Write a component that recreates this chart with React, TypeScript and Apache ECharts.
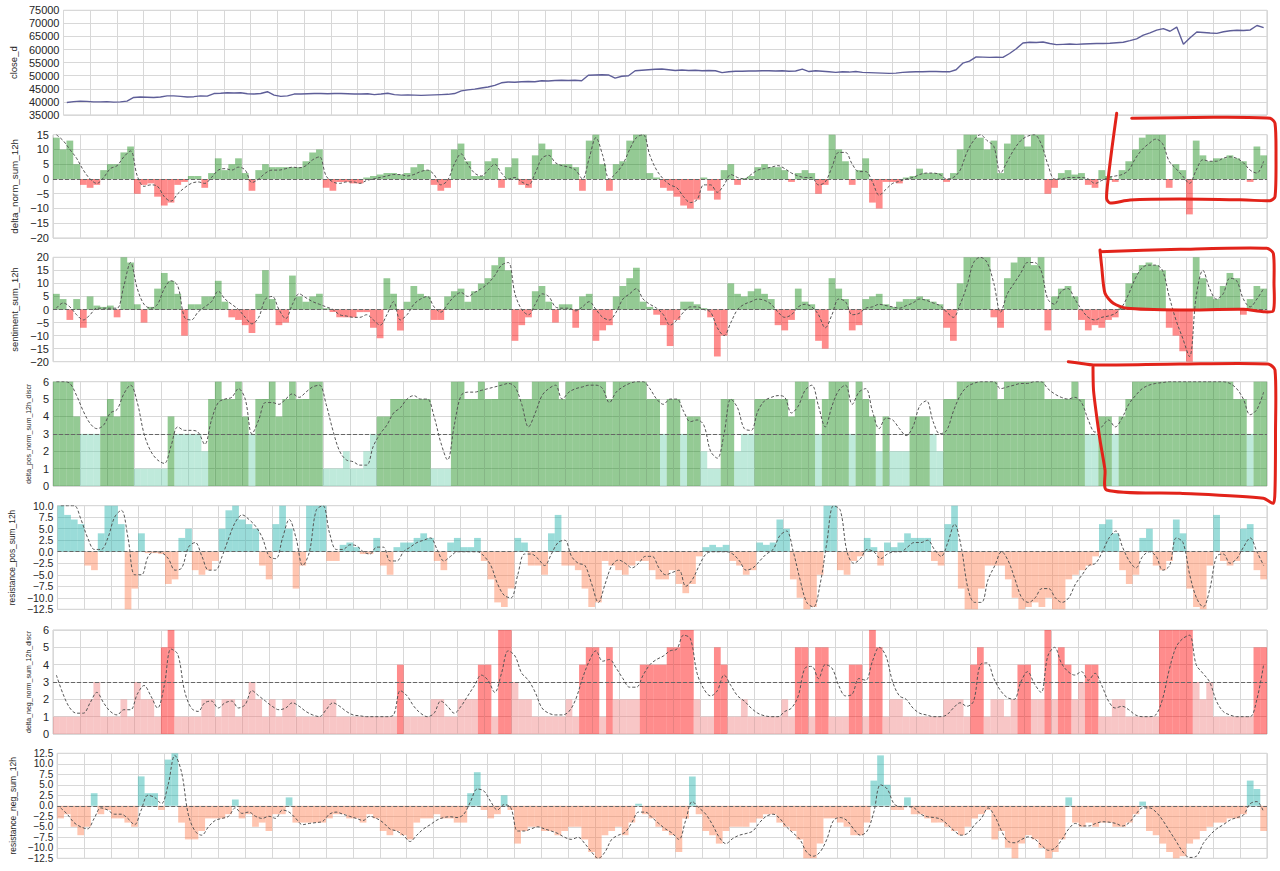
import React, { useEffect, useRef } from "react";
import * as echarts from "echarts";

// ---------- data (180 samples per panel) ----------
const closeD = [
  39800, 40100, 40300, 40200, 40000, 40000, 40100, 39900, 40000, 40300,
  41700, 41900, 41800, 41700, 41900, 42300, 42300, 42100, 41900, 42000,
  42300, 42200, 43200, 43300, 43500, 43400, 43500, 43100, 43000, 43200,
  43900, 42600, 42100, 42300, 43000, 43000, 43100, 43200, 43200, 43100,
  43200, 43200, 43100, 43000, 43000, 43100, 42800, 43000, 43300, 42800,
  42600, 42700, 42600, 42500, 42600, 42700, 42800, 42900, 43200, 44200,
  44600, 44900, 45300, 45700, 46300, 47300, 47600, 47500, 47700, 47800,
  47700, 48100, 48000, 48200, 48300, 48200, 48300, 48100, 50200, 50300,
  50400, 50300, 49100, 49800, 50000, 51900, 52100, 52300, 52500, 52600,
  52300, 52000, 52200, 52000, 52100, 51900, 52000, 51900, 51200, 51500,
  51700, 51700, 51800, 51800, 51900, 51900, 51800, 51900, 51700, 51800,
  52500, 51600, 51900, 51700, 51500, 51300, 51500, 51400, 51600, 51300,
  51200, 51100, 51000, 50900, 51000, 51300, 51400, 51500, 51500, 51600,
  51600, 51500, 51500, 52300, 54800, 55600, 57200, 57100, 57000, 57100,
  57000, 58500, 60300, 62500, 62800, 62700, 62900, 62300, 61900, 62000,
  62100, 62000, 62100, 62200, 62300, 62300, 62400, 62600, 62800, 63400,
  64100, 65500, 66400, 67400, 68000, 67000, 68600, 62000, 64500, 66700,
  66500, 66300, 66200, 66800, 67200, 67400, 67300, 67500, 69200, 68400,
];

const deltaNorm = [
  14, 10, 13, 5, -2, -3, -2, 3, 5, 5,
  9, 11, -5, -2, -1.5, -6, -9, -8, -2, -1,
  1, 1, -3, 2, 7, 3, 5, 7, 2, -4,
  3, 5, 4, 4, 4, 4, 4, 6, 9, 10,
  -3, -4, -1, -1, -1.5, -1.5, 0.5, 1, 1.5, 2,
  2, 1.5, 2, 4, 5, 3, -2, -4, -3, 10,
  12, 6, 1, 1, 6, 7, -3, 4, 7, -2,
  -3, 8, 12, 10, 5, 5, 5, 4, -4, 13,
  15, 5, -4, 5, 6, 13, 15, 15, 2, 0.5,
  -3, -4, -6, -9, -10, -7, 0.5, -4, -7, 3,
  5, -2, 0.3, 1, 4, 5, 4, 4, 3, -1,
  2, 3, 2, -5, -2, 15, 10, 6, -2, 3,
  7, -8, -10, -1, -1, -1.5, 0.5, 1, 3.5, 2,
  2, 2, -1, 2, 10, 15, 15, 14, 10, 13,
  2, 12, 15, 15, 11, 15, 15, -5, -3, 2,
  3, 1.5, 2, -2, -3, 3, 1, -1, 3, 6,
  10, 14, 15, 15, 15, -3, 5, 3, -12, 13,
  8, 6, 7, 7, 8, 7, 6, -1, 11, 8,
];
const deltaNormAvg = [
  15, 13, 10, 7, 3, 0, -1.5, 0.5, 3.5, 4.5,
  7.5, 9.5, 1, -2.5, -2, -2.5, -6, -7.5, -5, -3,
  -1.5, -1, -1.5, 0.5, 3, 3.5, 3, 4, 3, -1.2,
  0, 2, 3, 3, 3.5, 4, 3.8, 4.5, 6.5, 7.5,
  1, -1, -1.5, -1, -1, -1.5, -0.5, 0, 0.5, 1,
  1.5, 1.5, 1, 1.5, 2.5, 3, 1.5, -2, -0.5, 5,
  8.5, 5, 2, 1, 3, 5, 2, 0, 0.5, -1,
  -2, 2, 7, 8, 5.5, 4.5, 4, 3, 0, 7,
  14, 8, 0, 2, 5, 10, 14, 15, 8, 3,
  0, -2, -3, -6, -8, -7, -2, -2, -4.5, -2,
  1.5, 0.5, 0, 1.5, 3, 3.5, 4, 4.5, 3.5, 2,
  1, 0.5, 0.5, -2, -1, 4, 9, 9, 5, 2.5,
  2.5, -1, -5.5, -3.5, -1.5, -0.8, 0, 0.5, 1.5, 2,
  2, 1.5, 0, 0.5, 3, 9, 13, 15, 13, 11,
  2, 6, 10, 13, 14.5, 15, 12, 5, 0, 0,
  0.5, 0.5, 0.5, 0, -1.5, -0.5, 0.5, 1, 1.5, 3,
  7, 10, 12, 13.5, 12, 6, 3.5, 1, -1.5, 3,
  6.5, 6, 6, 7, 7.5, 7, 5.5, 3, 2, 6,
];

const sentiment = [
  6, 4, -4, 4, -7, 5, 1.5, 1, 1.5, -3,
  20, 18, 2, -5, 1, 8, 14, 11, 6, -10,
  2, 2, 5, 5, 11, 3, -3, -4, -6, -9,
  6, 15, 4, -6, -5, 13, 5, 3, 5, 6,
  0.5, -1, -3, -3, -3, -1, -1, -7, -11, 12,
  6, -8, 3, 9, 6, 5, -4, -4, 5, 7,
  8, 3, 7, 10, 12, 17, 20, 15, -12, -6,
  -3, 7, 9, 3, -5, 2, 2, -7, 5, 6,
  -12, -8, -6, 5, 9, 12, 16, 3, 1, -2,
  -6, -14, -4, 3, 3, 2, 0.5, -3, -18, -10,
  10, 6, 5, 7, 8, 6, 4, -6, -8, -4,
  8, 3, 2, -12, -15, 12, 8, 4, -8, -6,
  4, 5, 6, 2, 1, 3, 4, 4, 5, 4,
  3, 2, -7, -12, 10, 20, 20, 20, 20, -3,
  -7, 12, 18, 20, 20, 17, 20, -8, 5, 8,
  9, 5, -4, -8, -6, -7, -4, -3, 1, 10,
  14, 17, 18, 17, 15, -7, -10, -16, -20, 20,
  12, 5, 4, 9, 14, 12, -2, 4, 9, 8,
];
const sentimentAvg = [
  0.5, 2.5, 1, -2, -4, -2, 0.5, 0.5, 0.5, 0.5,
  9, 18, 8, 2, 0.5, 2, 8, 11, 9, -3,
  -4, -1, 1, 3, 7, 4, 2, 0, -3, -5.5,
  -3, 4, 5, 0, -3.5, 2, 6, 4.5, 3, 2,
  1, 0, -2, -2.5, -3, -3, -2, -4, -6, -2,
  3, -4, -2, 2, 4, 5, 1, -1, 2, 5,
  6.5, 5, 6.5, 8, 10, 13, 17, 18, 6, 0,
  -2, 2, 6, 5, 1, 0.5, 0.5, -0.5, 1, 3,
  0, -3, -4, -1, 4, 6, 8, 4, 2, 0.5,
  -2, -6, -4, -1, 1, 1, 0, -1, -7, -10,
  -5, 0, 2, 3, 4, 3.5, 2, -1, -3, -2,
  1, 2, 1, -2, -7, -2, 4, 3, -2, -1.5,
  0.5, 1, 2, 1.5, 1, 0.5, 1.5, 2.5, 4, 3.5,
  2.5, 1.5, -1, -3, 2, 9, 18, 20, 18, 10,
  -1, 6, 10, 14, 18, 18, 15, 4, 2, 7,
  8, 4, 0, -3, -4, -3, -2.5, -1.5, 1, 6,
  12, 16, 17, 17, 15, 5, -4, -11, -18, 5,
  15, 8, 4, 6, 12, 11, 4, 1, 4, 8,
];

const deltaPosDiscr = [
  6, 6, 6, 4, 3, 3, 3, 4, 5, 4,
  6, 6, 1, 1, 1, 1, 1, 4, 3, 3,
  3, 3, 2, 5, 6, 5, 5, 6, 4, 3,
  5, 5, 6, 4, 5, 6, 5, 5, 6, 6,
  1, 1, 1, 2, 1, 1, 2, 3, 4, 4,
  5, 5, 5, 5, 5, 5, 1, 1, 1, 6,
  6, 5, 5, 6, 5, 5, 6, 6, 6, 5,
  5, 6, 6, 6, 6, 5, 6, 6, 6, 6,
  6, 6, 5, 6, 6, 6, 6, 6, 5, 5,
  3, 5, 5, 3, 4, 4, 2, 1, 1, 5,
  5, 2, 3, 3, 5, 5, 5, 5, 5, 4,
  6, 6, 5, 3, 5, 6, 6, 6, 3, 6,
  5, 4, 2, 4, 2, 2, 2, 4, 4, 4,
  3, 2, 5, 5, 6, 6, 6, 6, 6, 6,
  5, 6, 6, 6, 6, 6, 6, 5, 5, 5,
  5, 6, 5, 3, 3, 4, 4, 3, 4, 5,
  6, 6, 6, 6, 6, 6, 6, 6, 6, 6,
  6, 6, 6, 6, 6, 5, 5, 3, 6, 6,
];
const deltaPosAvg = [
  6, 6, 5.9, 5.2, 4.3, 3.6, 3.3, 3.5, 4.2, 4.4,
  5.3, 5.8, 4.8, 3, 2, 1.5, 1.3, 2.3, 3.4, 3.2,
  3.2, 3.1, 2.4, 3.8, 4.8, 5, 5.1, 5.6, 5, 3,
  3.8, 4.8, 4.8, 4.7, 5, 5.3, 5.1, 5.4, 5.7, 5.8,
  4.7, 3.2, 2, 1.5, 1.4, 1.2, 1.2, 2.3, 3, 3.5,
  4.2, 4.5, 5, 5.2, 5, 5, 4, 2.5, 1.5, 3.5,
  5.2, 5.4, 5.4, 5.5, 5.6, 5.7, 5.8, 5.9, 5.7, 4.7,
  3.4, 4.2, 5.2, 5.6, 5.8, 5, 5.4, 5.6, 5.7, 5.8,
  5.8, 5.6, 4.8, 5.4, 5.7, 5.9, 6, 6, 5.6, 5,
  4.7, 5, 5, 4.3, 3.7, 3.8, 3.5, 2, 1.6, 3,
  5, 4.5, 3.3, 3.2, 4.3, 4.9, 5.1, 5.2, 5.1, 4.2,
  4.6, 5.5, 5.8, 4.6, 3.4, 4.6, 5.5, 5.8, 4.7, 5.4,
  5.6, 4.3, 3.3, 3.9, 3.8, 3.3, 2.9, 3.4, 4.6, 4.9,
  3.7, 3.0, 3.2, 4.3, 5.2, 5.7, 5.9, 6, 6, 6,
  5.6, 5.7, 5.8, 5.9, 5.9, 6, 6, 5.6, 5.3, 5.1,
  5, 5.1, 4.8, 3.8, 3.1, 3.4, 3.8, 3.4, 3.9, 4.7,
  5.2, 5.6, 5.8, 5.9, 5.95, 6, 6, 6, 6, 6,
  6, 6, 6, 6, 5.9, 5.6, 5, 4.1, 4.4, 5.4,
];

const resistancePos = [
  10, 8, 7, 6, -3, -4, 4, 10, 10, 6,
  -12.5, -8, 4, -0.3, -0.3, -0.5, -7, -6, 3, 5,
  -4, -5, -4, -2, 5, 9, 10, 7, 6, 5,
  -3, -6, 6, 10, 5, -8, -3, 10, 10, 10,
  -2, -2, 1.5, 2, 1, -0.5, -0.5, 3, -3, -5,
  1, 2, 2, 3, 4, 3, -2, -4, 2, 3,
  1, 1, 3, -2, -6, -11, -12, -8, 3, 2,
  -3, -3, -5, 4, 8, -3, -3, -4, -8, -12,
  -11, -2, -3, -4, -5, -3, -2, -2, -4, -6,
  -6, -4, -7, -9, -7, -1, 1, 1.5, 1, 1.5,
  -2, -3, -5, -4, 2, 1.5, 2, 7, 5, -6,
  -10, -12.5, -12, -5, 10, 10, -4, -5, -2, -1,
  3, 1, -3, 2, 1, 2, 4, 3, 3, 3,
  -2, -3, 6, 10, -8, -12.5, -12.5, -8, -3, -3,
  -3, -6, -10, -12.5, -12, -11, -12, -10, -12.5, -12.5,
  -6, -5, -4, -3, -1, 6, 7, 4, -4, -7,
  -5, 3, 5, -3, -4, -2, 7, 4, -8, -12,
  -12.5, -3, 8, -2, -3, -2, 5, 6, -4, -6,
];
const resistancePosAvg = [
  10, 10, 10, 7, 3, 0.5, 0.5, 3, 7.5, 9,
  3, -5, -5, -1, 0, -0.2, -1.5, -4, -3.5, 1,
  2, -1, -4, -4, -1, 3, 6.5, 8, 7, 5.5,
  3, -1, -1.5, 3, 7, 3, -3, 0, 9, 10,
  4, 0.5, 0.5, 1.5, 1.3, 0, -0.5, 1, 1, -2,
  -2, 0, 1, 2, 2.5, 3, 0.5, -2, -1, 0,
  0, 0, 0, -1, -3, -7, -9.5, -10, -5, -0.5,
  -0.5, -1.5, -3, -0.5, 2, 2.5, -1, -2.5, -3, -7,
  -11, -7, -3, -1.8, -2.5, -3.5, -2.5, -1, -1, -3.5,
  -5, -4.5, -4, -7.5, -6, -3, -0.5, 0, 0, 0,
  -0.5, -2, -4, -3.5, -2, -0.5, 0.5, 3.5, 4.5, 0,
  -6, -11, -12, -7, 2, 10, 9, 0, -2.5, -1.5,
  0.5, 0, -1.5, -0.5, 0, 0, 1, 2, 2, 2.5,
  0.5, -1, 2, 6, 1, -8, -11, -11, -6, -3,
  0, -2, -6, -10, -11, -10, -8, -8, -10, -11,
  -10, -7, -5, -3, -2.5, 0, 3, 4.5, 1, -2,
  -3.5, -1, 0, -1, -4, -3, 3, 2, -5, -10,
  -12, -8, -1, -0.5, -2.5, -1.5, 1, 3, 0, -3,
];

const deltaNegDiscr = [
  1, 1, 1, 1, 2, 2, 3, 1, 1, 1,
  2, 1, 3, 2, 2, 1, 5, 6, 1, 1,
  1, 1, 2, 2, 1, 2, 2, 1, 2, 3,
  2, 1, 2, 1, 2, 2, 1, 1, 1, 1,
  2, 2, 1, 1, 1, 1, 1, 1, 1, 1,
  1, 4, 1, 1, 1, 1, 2, 2, 1, 1,
  2, 2, 2, 4, 4, 1, 6, 6, 3, 2,
  2, 1, 1, 1, 1, 1, 2, 1, 4, 5,
  5, 1, 5, 2, 2, 2, 2, 4, 4, 4,
  4, 5, 5, 6, 6, 2, 1, 1, 5, 4,
  1, 1, 2, 1, 1, 1, 1, 1, 2, 1,
  5, 5, 1, 5, 5, 1, 1, 1, 4, 4,
  1, 6, 5, 1, 2, 2, 1, 1, 1, 1,
  1, 1, 2, 2, 2, 1, 4, 5, 1, 2,
  2, 1, 2, 4, 4, 2, 2, 6, 2, 5,
  4, 2, 3, 4, 4, 1, 1, 2, 2, 1,
  1, 1, 1, 1, 6, 6, 6, 6, 6, 3,
  2, 3, 1, 1, 1, 1, 1, 1, 5, 5,
];
const deltaNegAvg = [
  3.4, 2.3, 1.5, 1.2, 1.2, 1.8, 2.4, 1.8, 1.3, 1.1,
  1.4, 1.4, 2.3, 2.8, 2.2, 1.5, 2.8, 4.9, 4.6, 2.5,
  1.5, 1.3, 1.8, 1.9, 1.5, 1.8, 1.9, 1.5, 1.7, 2.5,
  2.2, 1.9, 1.6, 1.4, 1.5, 1.8, 1.6, 1.3, 1.1, 1.0,
  1.4, 1.8, 1.6, 1.3, 1.1, 1.05, 1, 1, 1, 1,
  1.1, 2.5, 2.2, 1.6, 1.2, 1.0, 1.2, 1.9, 1.6, 1.2,
  1.6, 2.2, 2.8, 3.4, 3.1, 2.4, 3.5, 4.8, 4.5, 3.5,
  3.1, 2.4, 1.5, 1.2, 1.1, 1.1, 1.3, 2.0, 3.2, 4.2,
  4.8, 4.2, 4.3, 3.8, 3.2, 2.7, 2.7, 3.4, 4.0, 4.3,
  4.5, 4.8, 4.9, 5.7, 5.5, 3.5, 2.6, 2.2, 2.5, 3.4,
  2.8, 2.2, 1.9, 1.5, 1.2, 1.05, 1.0, 1.0, 1.3, 1.5,
  2.2, 3.8, 3.9, 3.2, 4.0, 3.8, 2.8, 2.2, 2.3, 3.2,
  3.1, 4.2, 5.0, 4.5, 3.0, 2.2, 2.0, 1.5, 1.2, 1.1,
  1.0, 1.0, 1.1, 1.5, 1.8, 1.6, 1.9, 4.0, 4.1, 3.2,
  2.5, 2.1, 2.0, 3.0, 3.6, 2.9, 2.4, 4.5, 5.0, 4.1,
  3.6, 3.4, 3.6, 3.1, 3.5, 2.8, 1.9, 1.5, 1.6, 1.4,
  1.1, 1.0, 1.0, 1.1, 2.0, 3.7, 5.0, 5.5, 5.7, 4.0,
  3.5, 3.0, 1.9, 1.3, 1.1, 1.0, 1.0, 1.0, 2.0, 4.0,
];

const resistanceNeg = [
  -3, -2, -5, -7, -5, 3, -2, -1, -3, -3,
  -4, -5, 7, 3, 3, -1, 11, 12.5, -4, -8,
  -8, -6, -3, -3, -3, -2, 1.5, -3, -2, -5,
  -4, -6, -2, -2, 2, -4, -4, -4, -4, -4,
  -3, -2, -2, -3, -3, -4, -2, -3, -6, -7,
  -6, -7, -8, -4, -3, -3, -2, -3, -3, -4,
  -4, 3, 8, -1, -3, -2, 2.5, -1, -9, -6,
  -5, -5, -6, -6, -7, -6, -5, -5, -8, -11,
  -12.5, -7, -6, -5, -7, -4, 0.5, -2, -3, -5,
  -6, -7, -11, -3, 7, -2, -6, -7, -9, -6,
  -5, -5, -5, -4, -3, -2, -2, -4, -5, -6,
  -8, -12.5, -12.5, -9, -3, -3, -4, -5, -7, -7,
  -4, 6, 12, 5, -1, -1, 2, -2, -2, -3,
  -4, -4, -5, -6, -7, -5, -3, -2, -1, -8,
  -6, -10, -12.5, -9, -7, -8, -10, -12.5, -11, -8,
  2, -4, -5, -4, -5, -4, -4, -5, -5, -4,
  -2, 1, -6, -7, -9, -11, -12.5, -12, -9, -8,
  -6, -5, -4, -4, -3, -3, -2, 6, 4, -6,
];
const resistanceNegAvg = [
  -0.5, -2, -4, -5, -5.5, -3, -0.5, -1, -2, -2,
  -3, -4.5, -1, 2.5, 2, 0.5, 5, 12, 8, -2,
  -6, -7, -5, -3.5, -3, -2.5, -0.5, -1.8, -1.5, -2.5,
  -3, -2.5, -3, -1, -1.5, -3, -4.5, -4.2, -4, -3.7,
  -2, -1.5, -2, -2.5, -3, -3.5, -2.5, -3, -4, -5.5,
  -6, -7, -8.5, -7, -5.5, -4.5, -3.4, -2.8, -2.6, -2.8,
  -2, 1, 4, 3.5, 1, -1, 0.3, -0.5, -6, -6,
  -5.5, -5, -5.5, -6, -6.6, -7.5, -8, -7.5, -9, -11,
  -12.5, -11, -8, -7, -6.3, -4, -1.5, -1.5, -2.8, -4.2,
  -5.5, -6.5, -8, -3.5, 1, -0.5, -2, -4.5, -7.5, -9,
  -7.8, -7, -6.6, -6, -4, -2.5, -2, -3, -5, -6.5,
  -8, -11, -12, -11, -8, -3.5, -2.8, -3.5, -5.5, -7,
  -6, -1.5, 5, 4, 0.5, -0.2, -0.2, -0.5, -2, -2.6,
  -2.8, -3.2, -4.5, -6, -7, -6.5, -4.5, -3, -0.5, -2.5,
  -6, -8.5, -8.8, -8, -7.4, -8, -9.5, -10.6, -10, -8,
  -5.5, -4.2, -4.8, -4.8, -4.2, -3.8, -3.9, -4.2, -4.8, -4,
  -2, -0.5, -0.5, -1.5, -3.5, -6, -8.5, -11, -12.3, -12,
  -9, -7, -5.5, -4.5, -3.4, -2.8, -2.2, 0.5, 1, -1.5,
];

// axis settings per panel
const axisNames = [
  "close_d",
  "delta_norm_sum_12h",
  "sentiment_sum_12h",
  "delta_pos_norm_sum_12h_discr",
  "resistance_pos_sum_12h",
  "delta_neg_norm_sum_12h_discr",
  "resistance_neg_sum_12h",
];
const axisMin = [35000, -20, -20, 0, -12.5, 0, -12.5];
const axisMax = [75000, 15, 20, 6, 10, 6, 12.5];
const axisStep = [5000, 5, 5, 1, 2.5, 1, 2.5];
const axisDecimals = [0, 0, 0, 0, 1, 0, 1];

// ---------- layout / style ----------
const GRID_TOP = [10.3, 134.7, 257.3, 381.7, 505.7, 630, 753.3];
const GRID_H = [104.7, 103.3, 104.4, 104.3, 103.6, 104, 105];
const NAME_SIZE = [9.5, 9.8, 9.4, 6.9, 8.4, 7.0, 8.5];
const NAME_GAP = [38, 28, 27, 21.5, 35.5, 21.5, 35.5];
const LABEL_SIZE = [11, 11, 11, 11, 10.5, 11, 10];
const GRIDLINE = "#d8d8d8";
const FONT = "'Liberation Sans', Arial, Helvetica, sans-serif";

const C_GREEN = "rgba(0,128,0,0.42)";
const C_RED = "rgba(255,0,0,0.45)";
const C_MINT = "rgba(102,205,170,0.42)";
const C_TEAL = "rgba(32,178,170,0.45)";
const C_SALMON = "rgba(255,127,80,0.45)";
const C_PINK = "rgba(240,128,128,0.45)";

const fmt = (dec: number) => (v: number) => {
  const s = dec ? v.toFixed(dec) : String(Math.round(v));
  return s.replace("-", "\u2212");
};

// hand-drawn red annotation boxes
const ANNOT = [
  [
    [1116.7, 113.3], [1111.7, 150], [1107.3, 186.7], [1106.7, 199], [1110, 203],
    [1130, 200], [1180, 199], [1246.7, 200], [1270, 200.7], [1275, 196.7],
    [1276, 156.7], [1275, 123.3], [1270, 118.3], [1213.3, 117.3], [1131.7, 118.3],
  ],
  [
    [1100, 250], [1101.7, 266.7], [1105, 293.3], [1113.3, 303.3], [1126.7, 308.3],
    [1180, 310], [1243.3, 309.3], [1263.3, 311.7], [1273.3, 310.7], [1274, 283.3],
    [1273.3, 253.3], [1266.7, 248.3], [1180, 249.3], [1100, 251.7],
  ],
  [
    [1068.3, 361.7], [1080, 363.3], [1093.3, 365], [1180, 364], [1268, 364],
    [1275, 370], [1275.5, 433], [1275, 490], [1273.3, 503.3], [1263.3, 498.3],
    [1180, 493.3], [1106.7, 490], [1105, 470], [1100, 440], [1096.5, 415],
    [1093.5, 390], [1093, 367],
  ],
];

export default function App() {
  const ref = useRef<HTMLDivElement>(null);

  useEffect(() => {
    if (!ref.current) return;
    const chart = echarts.init(ref.current, undefined, { renderer: "svg" });
    const idx = closeD.map((_, i) => i);

    const grids = GRID_TOP.map((t, k) => ({
      left: 53,
      right: 13,
      top: t,
      height: GRID_H[k],
      show: true,
      borderColor: "#cccccc",
      borderWidth: 1,
      backgroundColor: "#ffffff",
    }));

    const xAxes = GRID_TOP.map((_, k) => ({
      type: "category",
      gridIndex: k,
      data: idx,
      boundaryGap: true,
      axisLine: { show: false },
      axisTick: { show: false, interval: 3 },
      axisLabel: { show: false },
      splitLine: { show: true, interval: 3, lineStyle: { color: GRIDLINE, width: 1 } },
    }));

    const yAxes = GRID_TOP.map((_, k) => ({
      type: "value",
      gridIndex: k,
      min: axisMin[k],
      max: axisMax[k],
      interval: axisStep[k],
      name: axisNames[k],
      nameLocation: "middle",
      nameRotate: 90,
      nameGap: NAME_GAP[k],
      nameTextStyle: { fontSize: NAME_SIZE[k], color: "#262626", fontFamily: FONT },
      axisLine: { show: false },
      axisTick: { show: false },
      axisLabel: {
        fontSize: LABEL_SIZE[k],
        color: "#262626",
        margin: 4,
        fontFamily: FONT,
        showMinLabel: true,
        showMaxLabel: true,
        hideOverlap: false,
        formatter: fmt(axisDecimals[k]),
      },
      splitLine: { show: true, lineStyle: { color: GRIDLINE, width: 1 } },
    }));

    const refLine = (y: number) => ({
      silent: true,
      symbol: "none",
      label: { show: false },
      lineStyle: { type: [4, 2], color: "#666666", width: 1 },
      data: [{ yAxis: y }],
    });

    const barPanel = (
      k: number,
      values: number[],
      avg: number[],
      colorOf: (v: number) => string,
      base: number
    ) => [
      {
        type: "bar",
        xAxisIndex: k,
        yAxisIndex: k,
        data: values,
        barWidth: "100%",
        barCategoryGap: "0%",
        itemStyle: { color: (p: any) => colorOf(p.value) },
      },
      {
        type: "line",
        xAxisIndex: k,
        yAxisIndex: k,
        data: avg,
        symbol: "none",
        smooth: 0.35,
        lineStyle: { color: "#555555", width: 1, type: [3, 2] },
        markLine: refLine(base),
        z: 5,
      },
    ];

    const series: any[] = [
      {
        type: "line",
        xAxisIndex: 0,
        yAxisIndex: 0,
        data: closeD,
        symbol: "none",
        lineStyle: { color: "#5e5e98", width: 1.4 },
      },
      ...barPanel(1, deltaNorm, deltaNormAvg, (v) => (v >= 0 ? C_GREEN : C_RED), 0),
      ...barPanel(2, sentiment, sentimentAvg, (v) => (v >= 0 ? C_GREEN : C_RED), 0),
      ...barPanel(3, deltaPosDiscr, deltaPosAvg, (v) => (v >= 4 ? C_GREEN : C_MINT), 3),
      ...barPanel(4, resistancePos, resistancePosAvg, (v) => (v >= 0 ? C_TEAL : C_SALMON), 0),
      ...barPanel(5, deltaNegDiscr, deltaNegAvg, (v) => (v >= 4 ? C_RED : C_PINK), 3),
      ...barPanel(6, resistanceNeg, resistanceNegAvg, (v) => (v >= 0 ? C_TEAL : C_SALMON), 0),
    ];

    const graphic = ANNOT.map((pts) => ({
      type: "polyline",
      z: 100,
      silent: true,
      shape: { points: pts, smooth: 0.25 },
      style: { stroke: "#e2231a", lineWidth: 3, fill: null, lineCap: "round", lineJoin: "round" },
    }));

    chart.setOption({
      animation: false,
      backgroundColor: "#ffffff",
      textStyle: { fontFamily: FONT },
      grid: grids,
      xAxis: xAxes,
      yAxis: yAxes,
      series,
      graphic,
    });

    return () => chart.dispose();
  }, []);

  return (
    <div
      ref={ref}
      style={{ position: "fixed", left: 0, top: 0, width: 1280, height: 871, background: "#fff" }}
    />
  );
}
